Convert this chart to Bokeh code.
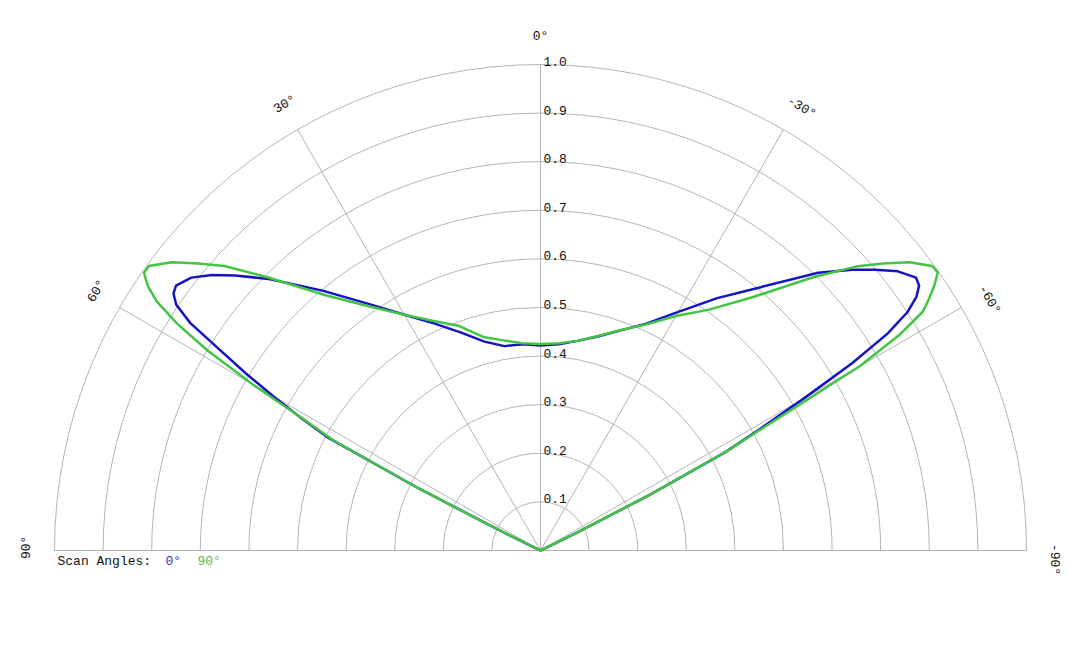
import numpy as np
from bokeh.plotting import figure
from bokeh.models import Range1d
from bokeh.core.properties import value
from bokeh.embed import file_html
from bokeh.resources import INLINE

# ---- data ----
angles = [-90, -66, -65, -64, -63, -62, -61, -60, -59, -58, -57, -56, -55, -54,
          -52, -50, -48, -45, -40, -35, -30, -25, -20, -15, -10, -5, 0,
          5, 10, 15, 20, 25, 30, 35, 40, 45, 48, 50, 52, 54, 55, 56, 57, 58,
          59, 60, 61, 62, 63, 64, 65, 66, 90]

r_scan0 = [0.0, 0.0, 0.01, 0.08, 0.25, 0.43, 0.517, 0.626, 0.748, 0.842, 0.900, 0.933, 0.951, 0.955,
           0.933, 0.899, 0.863, 0.808, 0.708, 0.634, 0.567, 0.515, 0.482, 0.456, 0.438, 0.426, 0.422,
           0.426, 0.427, 0.445, 0.477, 0.515, 0.560, 0.620, 0.698, 0.790, 0.846, 0.882, 0.912, 0.927,
           0.922, 0.904, 0.859, 0.776, 0.707, 0.635, 0.565, 0.497, 0.28, 0.08, 0.01, 0.0, 0.0]

r_scan90 = [0.0, 0.0, 0.01, 0.08, 0.25, 0.43, 0.545, 0.76, 0.862, 0.928, 0.954, 0.978, 0.998, 0.996,
            0.963, 0.919, 0.873, 0.796, 0.681, 0.605, 0.557, 0.513, 0.483, 0.457, 0.438, 0.428, 0.425,
            0.428, 0.439, 0.455, 0.492, 0.521, 0.560, 0.613, 0.685, 0.795, 0.875, 0.919, 0.963, 0.996,
            0.996, 0.975, 0.942, 0.883, 0.800, 0.685, 0.560, 0.482, 0.28, 0.08, 0.01, 0.0, 0.0]

ring_values = [0.1, 0.2, 0.3, 0.4, 0.5, 0.6, 0.7, 0.8, 0.9, 1.0]
ring_labels = ["0.1", "0.2", "0.3", "0.4", "0.5", "0.6", "0.7", "0.8", "0.9", "1.0"]
spoke_angles = [90, 60, 30, 0, -30, -60, -90]
spoke_labels = ["90°", "60°", "30°", "0°", "-30°", "-60°", "-90°"]
legend_title = "Scan Angles:"
series_names = ["0°", "90°"]

# ---- layout / style ----
W, H = 1064, 632
R_PX = 486.0
CX, CY = 540.0, 550.0
FONT = "Liberation Mono"
BLUE = "#1414c4"
GREEN = "#44c444"
GRID = "#b4b4b4"
LABEL_R = 1.058
LABEL_SHIFT_DEG = [-0.35, -0.3, -0.2, 0.0, -0.5, -0.8, -1.0]  # small clockwise nudge of angle labels

p = figure(width=W, height=H, output_backend="svg", toolbar_location=None,
           x_axis_type=None, y_axis_type=None, min_border=0,
           x_range=Range1d(-CX / R_PX, (W - CX) / R_PX),
           y_range=Range1d(-(H - CY) / R_PX, CY / R_PX))
p.outline_line_color = None
p.background_fill_color = "white"
p.border_fill_color = "white"

def to_xy(theta_deg, r):
    t = np.radians(np.asarray(theta_deg, dtype=float))
    r = np.asarray(r, dtype=float)
    return -r * np.sin(t), r * np.cos(t)

# rings
p.arc(x=0, y=0, radius=ring_values, start_angle=0, end_angle=np.pi,
      line_color=GRID, line_width=1)
# spokes
sx, sy = to_xy(spoke_angles, [1.0] * len(spoke_angles))
p.segment(x0=0, y0=0, x1=sx, y1=sy, line_color=GRID, line_width=1)

# ring labels
p.text(x=[0] * len(ring_values), y=ring_values, text=ring_labels,
       text_font=value(FONT), text_font_size="13px", text_color="#111111",
       text_baseline="alphabetic", text_align="left", x_offset=3, y_offset=-3)

# angle labels
pos_angles = np.asarray(spoke_angles, dtype=float) + np.asarray(LABEL_SHIFT_DEG)
lx, ly = to_xy(pos_angles, [LABEL_R] * len(spoke_angles))
p.text(x=lx, y=ly, text=spoke_labels, angle=list(np.radians(spoke_angles)),
       text_font=value(FONT), text_font_size="13px", text_color="#111111",
       text_baseline="middle", text_align="center")

# curves
bx, by = to_xy(angles, r_scan0)
gx, gy = to_xy(angles, r_scan90)
p.line(bx, by, line_color=BLUE, line_width=2.5, line_join="round", line_cap="round")
p.line(gx, gy, line_color=GREEN, line_width=2.5, line_join="round", line_cap="round")

# legend
p.text(x=[-1.0], y=[0.0], text=[legend_title], text_font=value(FONT),
       text_font_size="13px", text_color="#111111", text_baseline="middle",
       text_align="left", x_offset=3, y_offset=11)
p.text(x=[-1.0], y=[0.0], text=[series_names[0]], text_font=value(FONT),
       text_font_size="13px", text_color="#3030b0", text_baseline="middle",
       text_align="left", x_offset=111, y_offset=11)
p.text(x=[-1.0], y=[0.0], text=[series_names[1]], text_font=value(FONT),
       text_font_size="13px", text_color="#50bb50", text_baseline="middle",
       text_align="left", x_offset=143, y_offset=11)

open("out.html", "w").write(file_html(p, INLINE))
